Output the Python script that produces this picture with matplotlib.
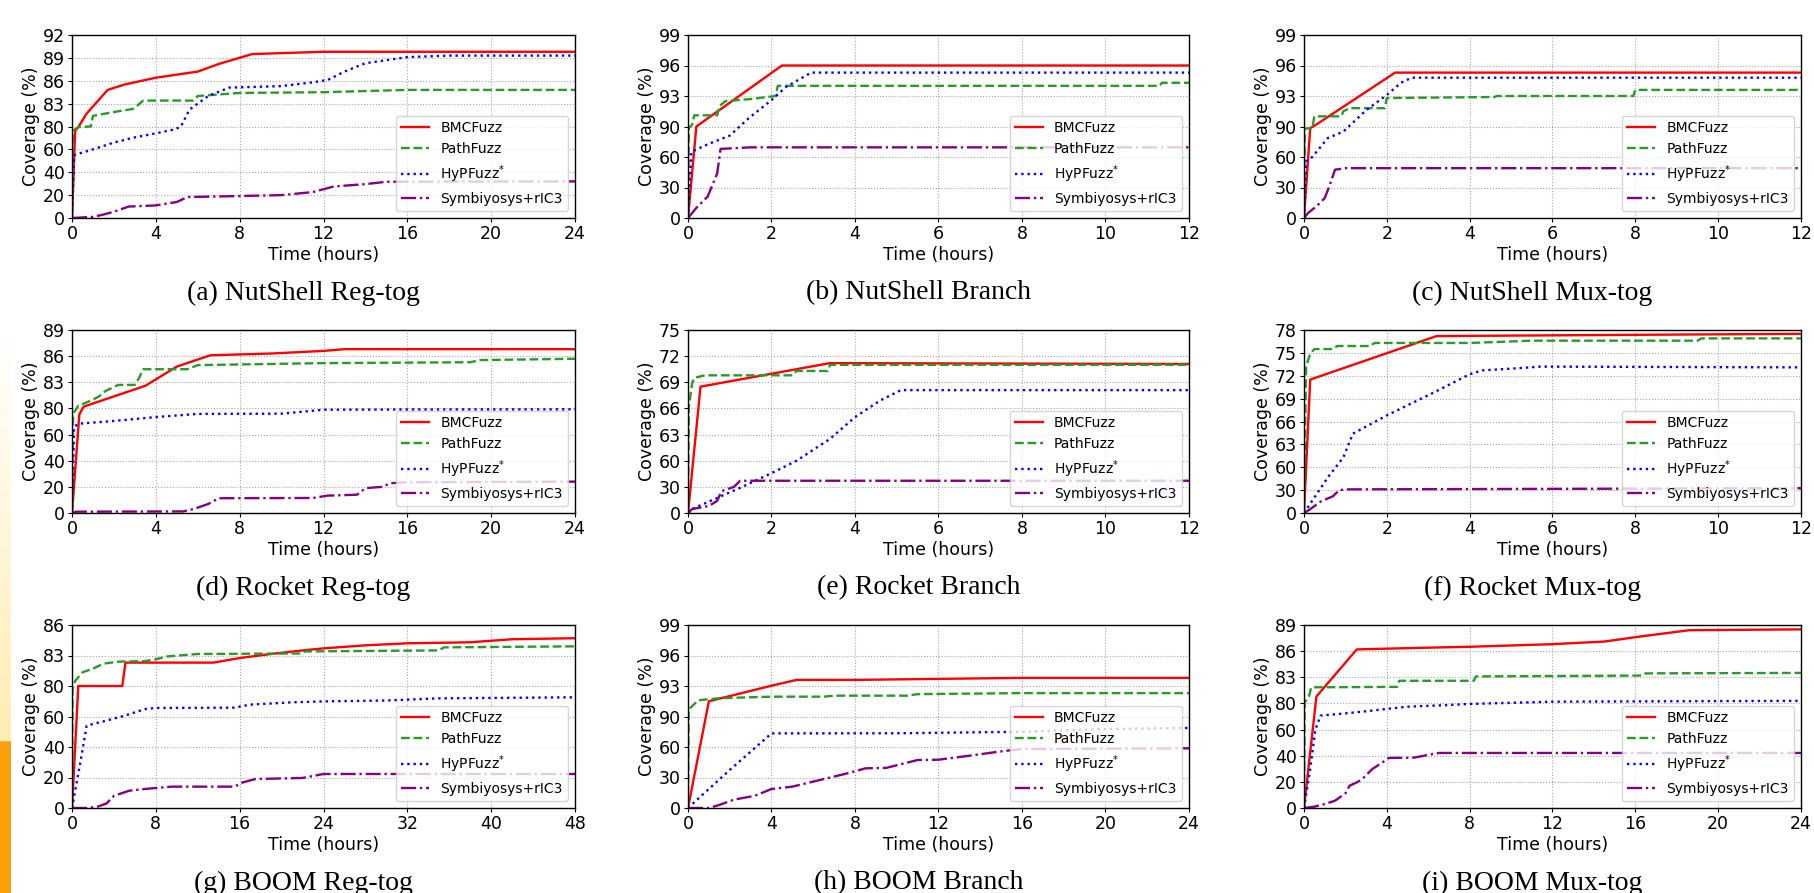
import numpy as np
import matplotlib
matplotlib.use('Agg')
import matplotlib.pyplot as plt

# curves: (hours, coverage %)
a_bmc = [(0, 0), (0.15, 76), (0.3, 79.5), (0.7, 81.7), (1.7, 84.8), (2.5, 85.5), (4, 86.4), (6, 87.2), (7, 88.2), (8.6, 89.5), (12, 89.8), (24, 89.8)]
a_path = [(0, 0), (0.05, 76.5), (0.3, 79.5), (0.9, 80), (1.0, 81.4), (2.0, 81.9), (2.9, 82.3), (3.1, 82.7), (3.4, 83.4), (5.8, 83.4), (6.0, 84.0), (8, 84.4), (12, 84.5), (16, 84.8), (24, 84.8)]
a_hyp = [(0, 0), (0.1, 55), (1, 60), (2, 66), (3, 70.5), (4, 74), (4.9, 77.5), (5.2, 80), (5.6, 82.2), (6.5, 84), (7.5, 85.1), (10, 85.3), (11.5, 85.8), (12.2, 86.1), (13, 87.2), (14, 88.3), (16, 89.1), (18, 89.3), (24, 89.3)]
a_sym = [(0, 0), (1, 1), (1.5, 3), (2, 5.5), (2.7, 10), (4, 11), (5, 14), (5.5, 18.3), (8, 19.2), (10, 20), (11.5, 22.7), (12.5, 27.6), (14, 29.6), (15, 31.7), (24, 32)]

b_bmc = [(0, 0), (0.2, 90), (2.25, 96), (12, 96)]
b_path = [(0, 0), (0.02, 88.4), (0.1, 90.2), (0.15, 91.1), (0.7, 91.1), (0.75, 92), (0.9, 92.5), (1.5, 92.7), (2.1, 93), (2.15, 94), (11.3, 94), (11.35, 94.3), (12, 94.3)]
b_hyp = [(0, 0), (0.08, 65), (0.5, 73), (1.0, 81), (1.45, 90.8), (2.0, 92.6), (2.35, 93.9), (2.95, 95.3), (12, 95.3)]
b_sym = [(0, 0), (0.2, 10), (0.47, 21), (0.7, 44), (0.78, 68), (1.5, 69.5), (12, 69.5)]

c_bmc = [(0, 0), (0.15, 88.4), (0.3, 90.2), (2.2, 95.3), (12, 95.3)]
c_path = [(0, 0), (0.02, 88), (0.2, 88.3), (0.25, 91), (0.9, 91), (0.95, 91.5), (1.1, 91.8), (1.95, 91.8), (2.0, 92.8), (4.6, 92.9), (4.65, 93), (7.95, 93), (8.0, 93.6), (12, 93.6)]
c_hyp = [(0, 0), (0.05, 55.6), (0.2, 60), (0.57, 78.5), (0.95, 85), (1.5, 91.6), (2.0, 93.1), (2.34, 94.3), (2.6, 94.8), (12, 94.8)]
c_sym = [(0, 0), (0.1, 5), (0.3, 11.5), (0.5, 19.6), (0.6, 30), (0.75, 47.5), (1.0, 49), (12, 49)]

d_bmc = [(0, 0), (0.35, 75.5), (0.55, 80.2), (3.5, 82.6), (5, 84.8), (6.6, 86.1), (9.5, 86.3), (12, 86.6), (13, 86.8), (24, 86.8)]
d_path = [(0, 0), (0.05, 72), (0.1, 77), (0.3, 80.3), (1, 81), (1.3, 81.4), (1.6, 82), (2.2, 82.7), (3.0, 82.7), (3.2, 83.5), (3.4, 84.5), (5.5, 84.5), (6, 84.97), (12, 85.2), (19, 85.3), (19.5, 85.55), (24, 85.7)]
d_hyp = [(0, 0), (0.1, 65.8), (0.3, 68.3), (2, 70.4), (4, 73.4), (6, 75.8), (10, 76), (12, 79), (16, 79.2), (24, 79.3)]
d_sym = [(0, 0), (0.2, 1), (5.3, 1.2), (5.8, 3), (6.5, 6.9), (7, 11.3), (11.5, 11.5), (12.2, 13.3), (13.6, 14), (14, 19), (14.8, 20), (15.2, 22.8), (16, 23.5), (24, 24)]

e_bmc = [(0, 0), (0.3, 68.5), (3.4, 71.2), (12, 71.1)]
e_path = [(0, 0), (0.02, 66.2), (0.1, 68.9), (0.15, 69.5), (0.4, 69.8), (2.5, 69.8), (2.6, 70.3), (3.35, 70.3), (3.4, 71), (12, 71)]
e_hyp = [(0, 0), (0.1, 4.6), (1.3, 30), (2, 45.7), (2.6, 60), (3.4, 62.5), (4.0, 65), (4.6, 66.9), (5.1, 68.1), (12, 68.1)]
e_sym = [(0, 0), (0.1, 4.6), (0.5, 8), (0.7, 14), (0.8, 25), (1.1, 30), (1.25, 37), (12, 37)]

f_bmc = [(0, 0), (0.15, 71.5), (3.2, 77.2), (6, 77.3), (9, 77.4), (12, 77.5)]
f_path = [(0, 0), (0.05, 73.2), (0.15, 74.9), (0.25, 75.5), (0.7, 75.5), (0.8, 75.9), (1.6, 75.9), (1.7, 76.3), (4, 76.3), (5.5, 76.6), (9.5, 76.6), (9.6, 76.9), (12, 76.9)]
f_hyp = [(0, 0), (0.58, 47), (0.95, 61.3), (1.18, 64.4), (2.0, 66.8), (3.17, 69.9), (4.0, 72.2), (4.3, 72.7), (5.2, 73.0), (5.7, 73.2), (12, 73.1)]
f_sym = [(0, 0), (0.15, 5), (0.4, 15), (0.7, 22), (0.85, 30), (1, 31), (12, 32.5)]

g_bmc = [(0, 0), (0.6, 80), (4.8, 80), (5.1, 82.3), (13.5, 82.3), (16, 82.75), (19, 83.15), (22, 83.5), (24, 83.7), (28, 84), (32, 84.2), (38, 84.3), (42, 84.6), (48, 84.7)]
g_path = [(0, 0), (0.05, 78), (0.3, 80.5), (1, 81.35), (2, 81.7), (3, 82.2), (4.5, 82.4), (7, 82.45), (8.1, 82.65), (9, 82.9), (12, 83.15), (22, 83.2), (22.2, 83.4), (35, 83.5), (35.5, 83.8), (48, 83.9)]
g_hyp = [(0, 0), (0.8, 30), (1.4, 54), (3, 56.8), (5, 60.5), (7, 64.9), (8, 65.6), (15.5, 65.8), (17, 67.8), (21, 69.3), (24, 69.9), (30, 70.5), (35, 71.9), (48, 72.6)]
g_sym = [(0, 0), (1.5, 0), (2.5, 1), (3.3, 3), (4, 8), (5.5, 11.4), (7, 12.5), (9.5, 14), (15.5, 14), (16.3, 16.8), (17.5, 19), (22, 19.7), (24, 22.3), (48, 22.3)]

h_bmc = [(0, 0), (1.0, 91.5), (4, 93.03), (5.2, 93.6), (8, 93.6), (12, 93.7), (16, 93.8), (24, 93.8)]
h_path = [(0, 0), (0.03, 90.7), (0.5, 91.6), (1.5, 91.8), (4, 91.95), (6.5, 91.95), (7, 92.05), (10.5, 92.05), (11, 92.2), (16, 92.3), (24, 92.3)]
h_hyp = [(0, 0), (2.0, 37.4), (4.0, 73.4), (10, 73.5), (14, 74.5), (16, 75), (20, 77.7), (24, 78.7)]
h_sym = [(0, 0), (1, 0), (1.5, 3), (2.2, 8.2), (3.2, 12), (4, 18.7), (5, 21), (6, 26), (7.5, 33.4), (8.5, 39), (9.5, 39.5), (11, 47.2), (12, 47.5), (13.5, 51.5), (15, 55.7), (16, 58), (24, 58.7)]

i_bmc = [(0, 0), (0.6, 80.8), (2.55, 86.2), (6, 86.4), (8, 86.5), (12, 86.8), (14.5, 87.1), (16.3, 87.7), (18.6, 88.4), (24, 88.5)]
i_path = [(0, 0), (0.03, 80.1), (0.25, 80.9), (0.35, 81.85), (4.5, 81.9), (4.6, 82.6), (8.2, 82.6), (8.3, 83.1), (16.3, 83.2), (16.5, 83.45), (24, 83.5)]
i_hyp = [(0, 0), (0.3, 30), (0.55, 60), (0.8, 70.7), (2, 72.4), (3, 74), (4, 75.8), (5, 77.5), (7, 78.8), (8, 79.6), (12, 80.2), (24, 80.3)]
i_sym = [(0, 0), (0.5, 1), (1, 3), (1.5, 5.6), (2, 11.2), (2.2, 17), (2.6, 20), (2.8, 22), (3.3, 29.8), (3.8, 35), (4.1, 38.3), (5.3, 38.5), (6.5, 42.1), (24, 42.1)]

titles = ['(a) NutShell Reg-tog', '(b) NutShell Branch', '(c) NutShell Mux-tog',
          '(d) Rocket Reg-tog', '(e) Rocket Branch', '(f) Rocket Mux-tog',
          '(g) BOOM Reg-tog', '(h) BOOM Branch', '(i) BOOM Mux-tog']
hours = [24, 12, 12, 24, 12, 12, 48, 24, 24]
xstep = [4, 2, 2, 4, 2, 2, 8, 4, 4]
# broken y axis: coarse step below the split, step of 3 above it
lo_step = [20, 30, 30, 20, 30, 30, 20, 30, 20]
split = [80, 90, 90, 80, 60, 60, 80, 90, 80]
ytop = [92, 99, 99, 89, 75, 78, 86, 99, 89]
series = [
    (a_bmc, a_path, a_hyp, a_sym), (b_bmc, b_path, b_hyp, b_sym), (c_bmc, c_path, c_hyp, c_sym),
    (d_bmc, d_path, d_hyp, d_sym), (e_bmc, e_path, e_hyp, e_sym), (f_bmc, f_path, f_hyp, f_sym),
    (g_bmc, g_path, g_hyp, g_sym), (h_bmc, h_path, h_hyp, h_sym), (i_bmc, i_path, i_hyp, i_sym),
]
names = ['BMCFuzz', 'PathFuzz', r'HyPFuzz$^{*}$', 'Symbiyosys+rIC3']
styles = [('red', '-'), ('#2a9a2a', '--'), ('blue', ':'), ('purple', '-.')]

W, H = 1815, 893
fig = plt.figure(figsize=(W / 100, H / 100), dpi=100)

# the yellow/orange slide edge on the left
strip = fig.add_axes([0, 0, 11 / W, 1])
g = np.linspace(0, 1, 400)[:, None]
col = np.ones((400, 1, 3))
yel = np.clip((g - 0.38) / 0.45, 0, 1)
col[:, 0, 1] = 1 - 0.07 * yel[:, 0]
col[:, 0, 2] = 1 - 0.3 * yel[:, 0]
org = g[:, 0] > 0.83
col[org, 0] = [1.0, 0.62, 0.05]
strip.imshow(col, aspect='auto', extent=[0, 1, 1, 0])
strip.axis('off')

lefts = [72, 688, 1304]
widths = [503, 501, 497]
tops = [35, 330, 625]
caption_y = [293, 588, 883]
ah = 183


def make_scale(lo, s):
    def fwd(v):
        v = np.asarray(v, dtype=float)
        return np.where(v <= s, v / lo, s / lo + (v - s) / 3.0)

    def inv(u):
        u = np.asarray(u, dtype=float)
        return np.where(u <= s / lo, u * lo, s + (u - s / lo) * 3.0)
    return fwd, inv


for k in range(9):
    r, c = divmod(k, 3)
    ax = fig.add_axes([lefts[c] / W, 1 - (tops[r] + ah) / H, widths[c] / W, ah / H])
    ax.set_yscale('function', functions=make_scale(lo_step[k], split[k]))
    for pts, name, (clr, ls) in zip(series[k], names, styles):
        arr = np.array(pts, dtype=float)
        ax.plot(arr[:, 0], arr[:, 1], color=clr, linestyle=ls, lw=1.7, label=name)
    ax.set_xlim(0, hours[k])
    ax.set_ylim(0, ytop[k])
    ax.set_xticks(np.arange(0, hours[k] + 1, xstep[k]))
    yt = list(range(0, split[k], lo_step[k])) + list(range(split[k], ytop[k] + 1, 3))
    ax.set_yticks(yt)
    ax.set_yticklabels([str(v) for v in yt])
    ax.tick_params(labelsize=12.5, length=3, pad=2)
    ax.grid(True, linestyle=':', color='gray', linewidth=0.8, alpha=0.7)
    ax.set_xlabel('Time (hours)', fontsize=12.5, labelpad=2)
    ax.set_ylabel('Coverage (%)', fontsize=12.5, labelpad=2)
    for sp in ax.spines.values():
        sp.set_linewidth(1.0)
    ax.legend(loc='lower right', fontsize=10)
    cx = (lefts[c] + widths[c] / 2 - 20) / W
    fig.text(cx, 1 - caption_y[r] / H, titles[k], ha='center', va='center',
             fontsize=20, family='Liberation Serif')

fig.savefig('out.png', dpi=100)
